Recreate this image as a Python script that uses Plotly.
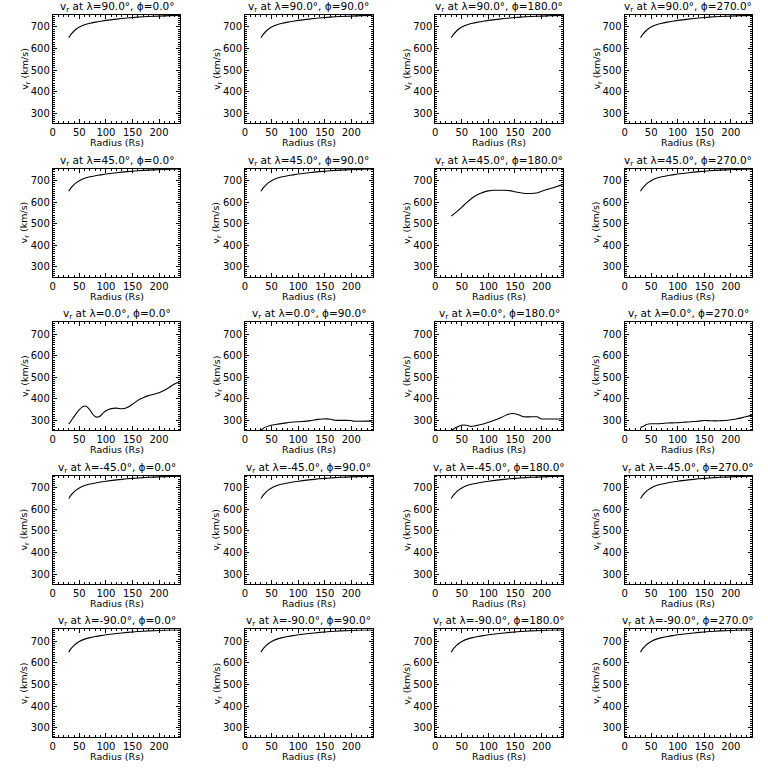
import plotly.graph_objects as go

# ---- data ----
lats = [90.0, 45.0, 0.0, -45.0, -90.0]
phis = [0.0, 90.0, 180.0, 270.0]

r_std = [30, 35, 40, 45, 50, 60, 70, 80, 90, 100, 120, 140, 160, 180, 200, 220, 240]
v_std = [650, 668, 681, 691, 699, 710, 717, 722, 726, 730, 736, 741, 745, 748, 750, 752, 753]

r_45_180 = [30, 40, 50, 60, 70, 80, 90, 100, 110, 120, 130, 140, 150, 160, 170, 180, 190, 200, 210, 220, 230, 240]
v_45_180 = [535, 555, 577, 600, 620, 635, 645, 652, 655, 655, 655, 653, 648, 643, 640, 640, 642, 650, 658, 665, 673, 682]

r_0_0 = [30, 35, 40, 45, 50, 55, 60, 65, 70, 75, 80, 85, 90, 95, 100, 110, 120, 130, 140, 150, 160, 170, 180, 190, 200, 210, 220, 230, 240]
v_0_0 = [283, 300, 318, 335, 350, 362, 367, 362, 348, 330, 317, 316, 322, 335, 345, 355, 357, 354, 360, 375, 393, 405, 415, 421, 428, 440, 455, 470, 482]

r_0_90 = [30, 37, 46, 62, 78, 99, 121, 137, 146, 162, 168, 199, 203, 240]
v_0_90 = [255, 268, 276, 283, 289, 294, 298, 305, 307, 306, 301, 300, 297, 298]

r_0_180 = [30, 39, 49, 58, 67, 77, 86, 99, 111, 124, 136, 146, 155, 167, 180, 192, 199, 240]
v_0_180 = [255, 268, 278, 278, 272, 276, 281, 291, 301, 314, 328, 332, 328, 317, 317, 317, 308, 308]

r_0_270 = [30, 35, 40, 45, 50, 60, 70, 80, 90, 100, 110, 120, 130, 140, 150, 160, 170, 180, 190, 200, 210, 220, 230, 240]
v_0_270 = [268, 272, 280, 284, 285, 285, 286, 288, 289, 290, 292, 293, 295, 297, 300, 299, 298, 299, 300, 303, 307, 312, 318, 326]

special = {
    (45.0, 180.0): (r_45_180, v_45_180),
    (0.0, 0.0): (r_0_0, v_0_0),
    (0.0, 90.0): (r_0_90, v_0_90),
    (0.0, 180.0): (r_0_180, v_0_180),
    (0.0, 270.0): (r_0_270, v_0_270),
}

x_range = [0, 240]
y_range = [255, 755]
x_ticks = [0, 50, 100, 150, 200]
y_ticks = [300, 400, 500, 600, 700]

# ---- layout geometry (pixels) ----
W = H = 768
col_left = [50, 243, 434, 624]
row_top = [15, 168.6, 322.2, 475.8, 629.4]
pw, ph = 128, 108
FONT = "DejaVu Sans"

fig = go.Figure()
layout = dict(width=W, height=H, margin=dict(l=0, r=0, t=0, b=0),
              paper_bgcolor="white", plot_bgcolor="white", showlegend=False)
annotations = []

k = 0
for i, lat in enumerate(lats):
    for j, phi in enumerate(phis):
        k += 1
        xa = "xaxis" if k == 1 else f"xaxis{k}"
        ya = "yaxis" if k == 1 else f"yaxis{k}"
        xr = "x" if k == 1 else f"x{k}"
        yr = "y" if k == 1 else f"y{k}"
        x0 = col_left[j] / W
        x1 = (col_left[j] + pw) / W
        y1 = 1 - row_top[i] / H
        y0 = 1 - (row_top[i] + ph) / H
        rr, vv = special.get((lat, phi), (r_std, v_std))
        fig.add_trace(go.Scatter(x=rr, y=vv, mode="lines", xaxis=xr, yaxis=yr,
                                 line=dict(color="black", width=1.1, shape="spline", smoothing=0.6),
                                 cliponaxis=True))
        common = dict(showline=True, linecolor="black", linewidth=1, mirror="allticks",
                      ticks="inside", ticklen=4, tickcolor="black", tickwidth=1,
                      showgrid=False, zeroline=False, ticklabelstandoff=0,
                      tickfont=dict(family=FONT, size=10, color="black"),
                      minor=dict(ticks="inside", ticklen=2, dtick=10, tickcolor="black", showgrid=False))
        layout[xa] = dict(domain=[x0, x1], range=x_range, tickvals=x_ticks, anchor=yr,
                          fixedrange=True, **common)
        layout[ya] = dict(domain=[y0, y1], range=y_range, tickvals=y_ticks, anchor=xr,
                          fixedrange=True, **common)
        annotations.append(dict(
            text=f"v<sub>r</sub> at λ={lat:.1f}°, ϕ={phi:.1f}°",
            x=(x0 + x1) / 2, y=y1, xref="paper", yref="paper",
            xanchor="center", yanchor="bottom", yshift=-1, showarrow=False,
            font=dict(family=FONT, size=10.5, color="black")))
        annotations.append(dict(
            text="Radius (Rs)", x=(x0 + x1) / 2, y=y0, xref="paper", yref="paper",
            xanchor="center", yanchor="top", yshift=-12, showarrow=False,
            font=dict(family=FONT, size=9.5, color="black")))
        annotations.append(dict(
            text="v<sub>r</sub> (km/s)", x=x0, y=(y0 + y1) / 2, xref="paper", yref="paper",
            xanchor="center", yanchor="middle", xshift=-28, textangle=-90, showarrow=False,
            font=dict(family=FONT, size=9.5, color="black")))

layout["annotations"] = annotations
fig.update_layout(**layout)
fig.write_html("out.html", config={"displayModeBar": False},
               post_script="document.body.style.margin='0px';document.body.style.overflow='hidden';")
